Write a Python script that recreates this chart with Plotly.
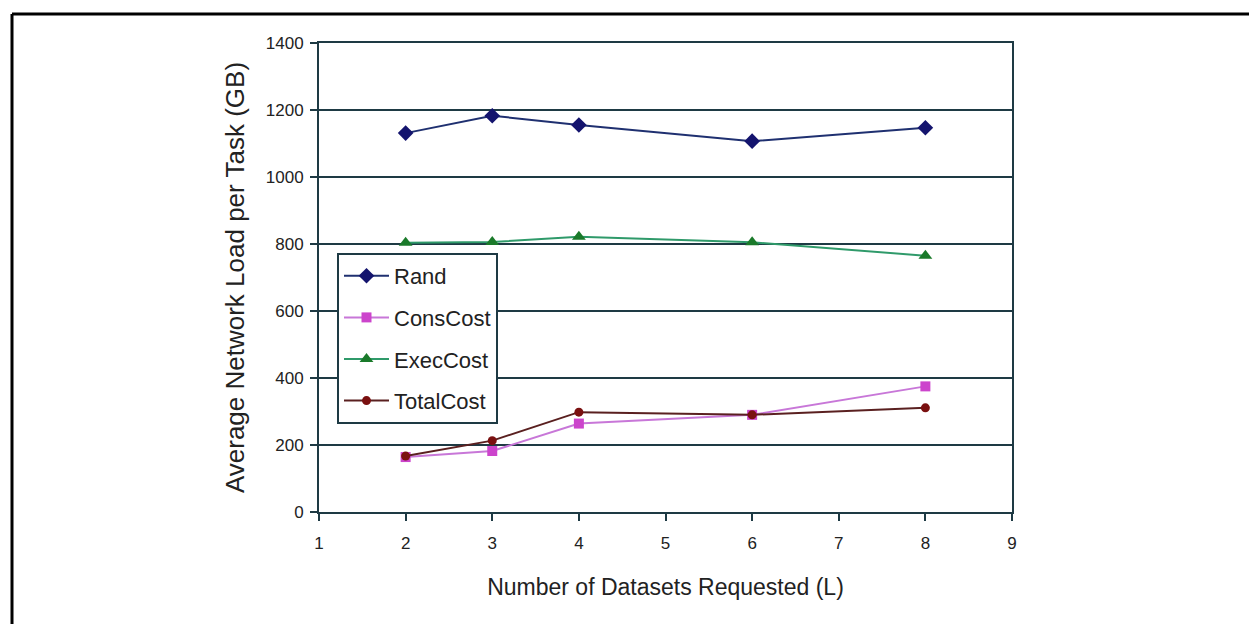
import plotly.graph_objects as go

x_vals = [2, 3, 4, 6, 8]
rand = [1131, 1183, 1155, 1107, 1147]
cons_cost = [164, 182, 264, 290, 375]
exec_cost = [804, 806, 822, 805, 765]
total_cost = [167, 213, 298, 290, 311]

series = [
    ("Rand", rand, "#1f3070", "#14146e", "diamond", 12),
    ("ConsCost", cons_cost, "#c877d8", "#cc44cc", "square", 10),
    ("ExecCost", exec_cost, "#2f9a6a", "#1a7a2a", "triangle-up", 12),
    ("TotalCost", total_cost, "#5a2020", "#7a1010", "circle", 9),
]

# page has an 8px body margin; work in page pixels and convert
OFF = 8
W, H = 1257 - OFF, 624 - OFF
L, R, T, B = 319, 1012, 43, 512  # plot area in page pixels

fig = go.Figure()
for name, vals, lc, mc, sym, ms in series:
    fig.add_trace(go.Scatter(
        x=x_vals, y=vals, name=name, mode="lines+markers",
        line=dict(color=lc, width=2),
        marker=dict(color=mc, symbol=sym, size=ms),
        legendgroup=name,
    ))

axis_color = "#1e3a44"
font_family = "Arial, Liberation Sans, sans-serif"


def px_x(p):
    return (p - L) / (R - L)


def px_y(p):
    return (B - p) / (B - T)


fig.update_layout(
    width=W, height=H,
    margin=dict(l=L - OFF, r=W - (R - OFF), t=T - OFF, b=H - (B - OFF)),
    paper_bgcolor="white", plot_bgcolor="white",
    font=dict(family=font_family, color="#222"),
    showlegend=True,
    legend=dict(
        x=px_x(337), y=px_y(253), xanchor="left", yanchor="top",
        bordercolor=axis_color, borderwidth=2, bgcolor="white",
        font=dict(size=22, color="#222"),
        tracegroupgap=10, itemwidth=45,
    ),
    xaxis=dict(
        range=[1, 9], tickmode="linear", tick0=1, dtick=1,
        showgrid=False, zeroline=False,
        showline=True, linecolor=axis_color, linewidth=2, mirror=True,
        ticks="outside", ticklen=7, tickcolor=axis_color, tickwidth=2,
        ticklabelstandoff=8,
        tickfont=dict(size=17, color="#222"),
        title=dict(text="Number of Datasets Requested (L)", font=dict(size=23, color="#222"), standoff=26),
    ),
    yaxis=dict(
        range=[0, 1400], tickmode="linear", tick0=0, dtick=200,
        showgrid=True, gridcolor=axis_color, gridwidth=2, zeroline=False,
        showline=True, linecolor=axis_color, linewidth=2, mirror=True,
        ticks="outside", ticklen=7, tickcolor=axis_color, tickwidth=2,
        ticklabelstandoff=3,
        tickfont=dict(size=17, color="#222"),
        title=dict(text="Average Network Load per Task (GB)", font=dict(size=26, color="#222"), standoff=14),
    ),
)

# outer frame (top and left edges visible)
fig.add_shape(type="line", xref="paper", yref="paper",
              x0=px_x(12), x1=px_x(1265), y0=px_y(14), y1=px_y(14),
              line=dict(color="black", width=3))
fig.add_shape(type="line", xref="paper", yref="paper",
              x0=px_x(12), x1=px_x(12), y0=px_y(14), y1=px_y(640),
              line=dict(color="black", width=3))

fig.write_html("out.html")
